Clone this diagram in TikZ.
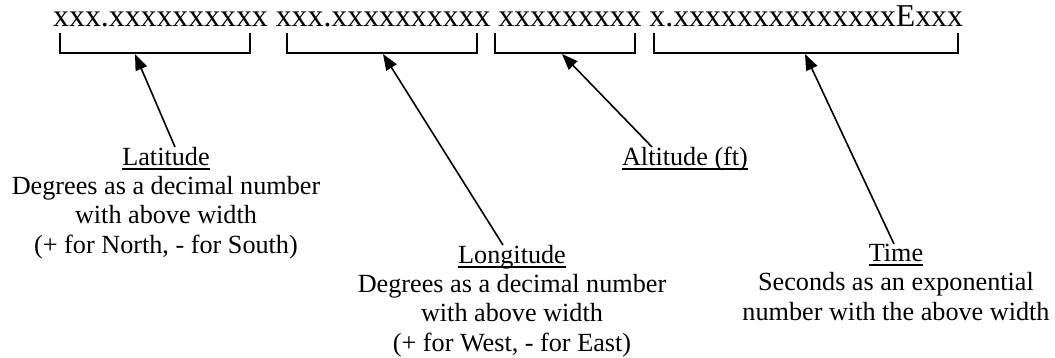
\documentclass[tikz,border=0pt]{standalone}
\usepackage{fontspec}
\setmainfont{Liberation Serif}
\usetikzlibrary{arrows.meta}
\newcommand\myul[1]{\setbox0\hbox{#1}\rlap{\rule[-4.6pt]{\wd0}{1.8pt}}\box0}
\begin{document}
\begin{tikzpicture}[x=1pt,y=-1pt,
  topline/.style={font=\fontsize{31.8}{36}\selectfont, inner sep=0, anchor=base west},
  lbl/.style={font=\fontsize{26.2}{29.3}\selectfont, align=center, inner sep=0, anchor=north},
  brk/.style={line width=1.6pt},
  arr/.style={line width=1.6pt, -{Triangle[length=16pt,width=12pt]}}]
\useasboundingbox (0,0) rectangle (1055,358);
\node[topline] (nums) at (53,27) {xxx.xxxxxxxxxx xxx.xxxxxxxxxx xxxxxxxxx x.xxxxxxxxxxxxxxExxx};
\draw[brk] (60,33) -- (60,53) -- (250,53) -- (250,33);
\draw[brk] (287,33) -- (287,53) -- (477,53) -- (477,33);
\draw[brk] (495,33) -- (495,53) -- (635,53) -- (635,33);
\draw[brk] (654,33) -- (654,53) -- (958,53) -- (958,33);
\coordinate (t1) at (135,54);
\coordinate (t2) at (383,54);
\coordinate (t3) at (562,54);
\coordinate (t4) at (805,54);
\node[lbl] (lat) at (166,147) {\myul{Latitude}\\Degrees as a decimal number\\with above width\\(+ for North, - for South)};
\node[lbl] (alt) at (685,147) {\myul{Altitude (ft)}};
\node[lbl] (lon) at (512,245) {\myul{Longitude}\\Degrees as a decimal number\\with above width\\(+ for West, - for East)};
\node[lbl] (time) at (896,244) {\myul{Time}\\Seconds as an exponential\\number with the above width};
\draw[arr] ([xshift=9pt]lat.north) -- (t1);
\draw[arr] ([xshift=-9pt]lon.north) -- (t2);
\draw[arr] ([xshift=-33pt]alt.north) -- (t3);
\draw[arr] ([xshift=-2pt]time.north) -- (t4);
\end{tikzpicture}
\end{document}
